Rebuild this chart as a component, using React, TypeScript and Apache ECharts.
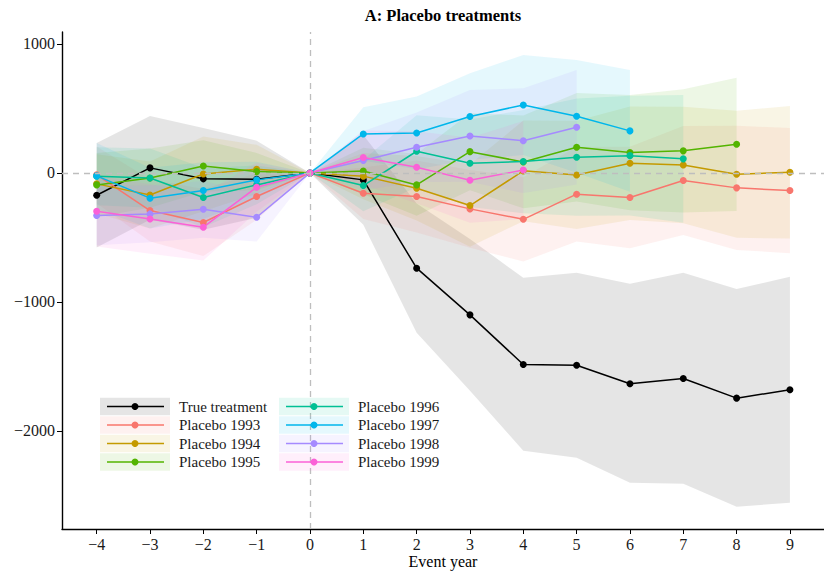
import React, { useEffect, useRef } from "react";
import * as echarts from "echarts";

const eventYears = [-4, -3, -2, -1, 0, 1, 2, 3, 4, 5, 6, 7, 8, 9];
const yTicks = [-2000, -1000, 0, 1000];

const seriesNames = [
  "True treatment",
  "Placebo 1993",
  "Placebo 1994",
  "Placebo 1995",
  "Placebo 1996",
  "Placebo 1997",
  "Placebo 1998",
  "Placebo 1999",
];
const seriesColors = ["#000000", "#F8766D", "#C49A00", "#53B400", "#00C094", "#00B6EB", "#A58AFF", "#FB61D7"];

// estimates
const trueEst = [-173, 39, -46, -49, 0, -54, -739, -1101, -1486, -1492, -1636, -1595, -1747, -1682];
const p1993Est = [-15, -292, -385, -183, 0, -158, -183, -279, -360, -165, -191, -59, -116, -137];
const p1994Est = [-85, -171, -8, 28, 0, -25, -119, -253, 16, -16, 75, 62, -10, 5];
const p1995Est = [-93, -40, 54, 10, 0, 15, -93, 165, 85, 199, 158, 171, 222];
const p1996Est = [-25, -40, -191, -93, 0, -98, 168, 75, 88, 122, 134, 109];
const p1997Est = [-23, -196, -137, -54, 0, 302, 310, 437, 527, 439, 326];
const p1998Est = [-331, -318, -282, -344, 0, 96, 199, 287, 250, 354];
const p1999Est = [-297, -357, -421, -111, 0, 119, 44, -57, 23];

// confidence bands (lower / upper)
const trueLo = [-578, -364, -441, -348, 0, -403, -1240, -1690, -2155, -2209, -2403, -2411, -2589, -2558];
const trueHi = [232, 442, 349, 250, 0, 295, -238, -512, -814, -775, -860, -775, -900, -806];
const p1993Lo = [-235, -532, -645, -363, 0, -358, -463, -581, -687, -532, -584, -481, -597, -623];
const p1993Hi = [205, -52, -125, -3, 0, 42, 97, 23, -33, 202, 202, 363, 365, 349];
const p1994Lo = [-315, -431, -298, -162, 0, -205, -369, -573, -374, -436, -365, -390, -503, -509];
const p1994Hi = [145, 89, 282, 218, 0, 155, 131, 67, 406, 404, 515, 514, 483, 519];
const p1995Lo = [-341, -270, -146, -135, 0, -165, -333, -135, -275, -221, -289, -307, -295];
const p1995Hi = [155, 190, 254, 155, 0, 195, 147, 465, 445, 619, 605, 649, 739];
const p1996Lo = [-250, -270, -421, -243, 0, -298, -112, -265, -312, -333, -331, -387];
const p1996Hi = [200, 190, 39, 57, 0, 102, 448, 415, 488, 577, 599, 605];
const p1997Lo = [-278, -432, -357, -194, 0, 95, 28, 101, 139, 2, -146];
const p1997Hi = [232, 40, 83, 86, 0, 509, 592, 773, 915, 876, 798];
const p1998Lo = [-561, -538, -502, -532, 0, -134, -71, -69, -156, -90];
const p1998Hi = [-101, -98, -62, -156, 0, 326, 469, 643, 656, 798];
const p1999Lo = [-571, -627, -680, -301, 0, -91, -236, -387, -357];
const p1999Hi = [-23, -87, -162, 79, 0, 329, 324, 273, 403];

const estimates = [trueEst, p1993Est, p1994Est, p1995Est, p1996Est, p1997Est, p1998Est, p1999Est];
const lowers = [trueLo, p1993Lo, p1994Lo, p1995Lo, p1996Lo, p1997Lo, p1998Lo, p1999Lo];
const uppers = [trueHi, p1993Hi, p1994Hi, p1995Hi, p1996Hi, p1997Hi, p1998Hi, p1999Hi];

const FONT = "'Liberation Serif', 'Times New Roman', 'DejaVu Serif', serif";

function rgba(hex: string, a: number) {
  const n = parseInt(hex.slice(1), 16);
  return `rgba(${(n >> 16) & 255},${(n >> 8) & 255},${n & 255},${a})`;
}

function fmt(v: number) {
  return v < 0 ? "\u2212" + Math.abs(v) : String(v);
}

function bandSeries(name: string, color: string, lo: number[], hi: number[]) {
  const data = lo.map((l, i) => [eventYears[i], l, hi[i]]);
  return {
    type: "custom",
    name: name + " band",
    z: 1,
    silent: true,
    encode: { x: 0, y: [1, 2] },
    data,
    renderItem: (params: any, api: any) => {
      if (params.dataIndex !== 0) return null;
      const up = data.map((d) => api.coord([d[0], d[2]]));
      const low = data
        .slice()
        .reverse()
        .map((d) => api.coord([d[0], d[1]]));
      return {
        type: "polygon",
        shape: { points: up.concat(low) },
        style: { fill: rgba(color, 0.1), stroke: "none" },
      };
    },
  };
}

function lineSeries(name: string, color: string, est: number[], withMarks: boolean) {
  const s: any = {
    type: "line",
    name,
    z: 2,
    silent: true,
    data: est.map((v, i) => [eventYears[i], v]),
    symbol: "circle",
    symbolSize: 7,
    showSymbol: true,
    lineStyle: { color, width: 1.5 },
    itemStyle: { color },
  };
  if (withMarks) {
    s.markLine = {
      silent: true,
      z: 5,
      symbol: ["none", "none"],
      label: { show: false },
      lineStyle: { color: "#BEBEBE", width: 1.3, type: [6, 5] },
      data: [{ yAxis: 0 }, { xAxis: 0 }],
    };
  }
  return s;
}

function legendGraphics() {
  const els: any[] = [];
  const colX = [100, 279];
  const rowY = [406.5, 425, 443.5, 462];
  seriesNames.forEach((name, i) => {
    const col = i < 4 ? 0 : 1;
    const row = i % 4;
    const x0 = colX[col];
    const cy = rowY[row];
    const color = seriesColors[i];
    els.push({
      type: "rect",
      shape: { x: x0, y: cy - 8.75, width: 70, height: 17.5 },
      style: { fill: rgba(color, 0.1) },
      z: 20,
      silent: true,
    });
    els.push({
      type: "line",
      shape: { x1: x0 + 7, y1: cy, x2: x0 + 64, y2: cy },
      style: { stroke: color, lineWidth: 1.5 },
      z: 21,
      silent: true,
    });
    els.push({
      type: "circle",
      shape: { cx: x0 + 35, cy, r: 3.5 },
      style: { fill: color },
      z: 22,
      silent: true,
    });
    els.push({
      type: "text",
      x: x0 + 79,
      y: cy,
      style: {
        text: name,
        font: `15px ${FONT}`,
        fill: "#1a1a1a",
        verticalAlign: "middle",
        align: "left",
      },
      z: 22,
      silent: true,
    });
  });
  els.push({
    type: "text",
    x: 443,
    y: 15,
    style: {
      text: "A: Placebo treatments",
      font: `bold 16.5px ${FONT}`,
      fill: "#000",
      align: "center",
      verticalAlign: "middle",
    },
    z: 22,
    silent: true,
  });
  els.push({
    type: "text",
    x: 443,
    y: 561,
    style: {
      text: "Event year",
      font: `16px ${FONT}`,
      fill: "#000",
      align: "center",
      verticalAlign: "middle",
    },
    z: 22,
    silent: true,
  });
  return els;
}

export default function App() {
  const ref = useRef<HTMLDivElement>(null);
  useEffect(() => {
    if (!ref.current) return;
    const chart = echarts.init(ref.current, undefined, { renderer: "svg" });
    const series: any[] = [];
    seriesNames.forEach((n, i) => series.push(bandSeries(n, seriesColors[i], lowers[i], uppers[i])));
    seriesNames.forEach((n, i) => series.push(lineSeries(n, seriesColors[i], estimates[i], i === 0)));
    chart.setOption({
      animation: false,
      backgroundColor: "#ffffff",
      grid: { left: 62, top: 32, width: 762.6, height: 497, containLabel: false, outerBoundsMode: "none" },
      xAxis: {
        type: "value",
        min: -4.65,
        max: 9.65,
        splitLine: { show: false },
        axisLine: { show: true, onZero: false, lineStyle: { color: "#000", width: 1.4 } },
        axisTick: { show: true, length: 5, lineStyle: { color: "#000", width: 1 }, customValues: eventYears },
        axisLabel: {
          customValues: eventYears,
          formatter: (v: number) => fmt(v),
          fontFamily: FONT,
          fontSize: 16,
          color: "#1a1a1a",
          margin: 7,
        },
      },
      yAxis: {
        type: "value",
        min: -2762,
        max: 1093,
        splitLine: { show: false },
        axisLine: { show: true, onZero: false, lineStyle: { color: "#000", width: 1.4 } },
        axisTick: { show: true, length: 5, lineStyle: { color: "#000", width: 1 }, customValues: yTicks },
        axisLabel: {
          customValues: yTicks,
          formatter: (v: number) => fmt(v),
          fontFamily: FONT,
          fontSize: 16,
          color: "#1a1a1a",
          margin: 7,
        },
      },
      graphic: legendGraphics(),
      series,
    });
    return () => chart.dispose();
  }, []);
  return (
    <div
      ref={ref}
      style={{ position: "fixed", left: 0, top: 0, width: 824, height: 571, background: "#fff" }}
    />
  );
}
